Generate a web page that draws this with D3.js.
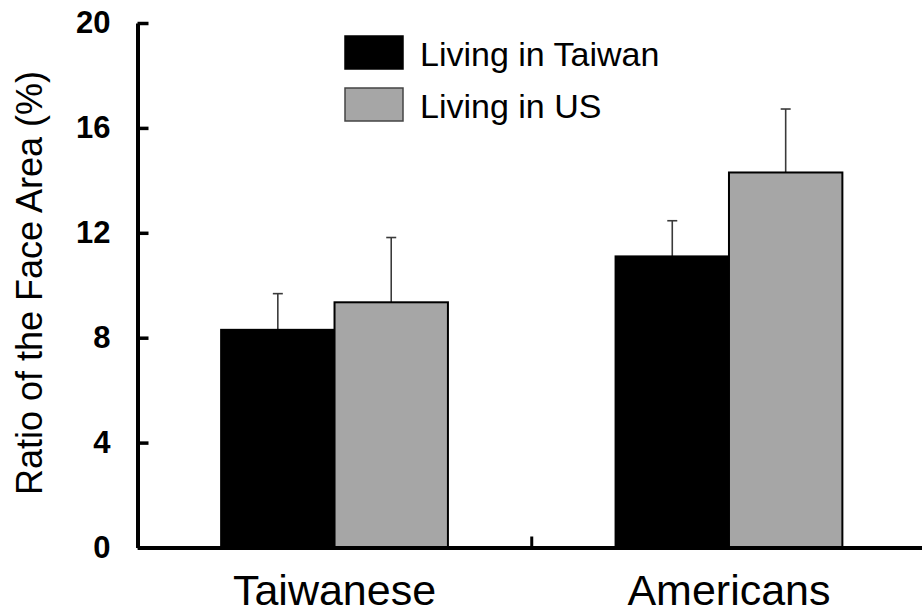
<!DOCTYPE html>
<html>
<head>
<meta charset="utf-8">
<script src="https://cdn.jsdelivr.net/npm/d3@7"></script>
<style>
  html, body { margin: 0; padding: 0; background: #fff; }
  svg { display: block; }
  text { font-family: "Liberation Sans", Arial, Helvetica, sans-serif; fill: #000; }
</style>
</head>
<body>
<svg id="chart" width="922" height="614"></svg>
<script>
// Face-area ratio by group and country of residence
const categories = ["Taiwanese", "Americans"];
const seriesNames = ["Living in Taiwan", "Living in US"];
const livingInTaiwan = [8.3, 11.1];
const livingInUS = [9.35, 14.3];
const errLivingInTaiwan = [1.38, 1.36];
const errLivingInUS = [2.47, 2.42];
const yTicks = [0, 4, 8, 12, 16, 20];
const yTitle = "Ratio of the Face Area (%)";

const seriesValues = [livingInTaiwan, livingInUS];
const seriesErrors = [errLivingInTaiwan, errLivingInUS];
const seriesFill = ["#000000", "#a6a6a6"];

const W = 922, H = 614;
const svg = d3.select("#chart");
svg.append("rect").attr("width", W).attr("height", H).attr("fill", "#fff");

const y = d3.scaleLinear().domain([0, 20]).range([547.5, 23]);
const x = d3.scaleBand().domain(categories).range([137.5, 926])
  .paddingInner(0.425).paddingOuter(0.212);
const xs = d3.scaleBand().domain(seriesNames).range([0, x.bandwidth()]);

// bars
const rows = [];
categories.forEach((c, ci) => {
  seriesNames.forEach((s, si) => {
    rows.push({ c, s, si, v: seriesValues[si][ci], e: seriesErrors[si][ci] });
  });
});

const g = svg.append("g");

// error bars (upper half only)
const errG = g.append("g");
rows.forEach(d => {
  const cx = x(d.c) + xs(d.s) + xs.bandwidth() / 2;
  errG.append("line")
    .attr("x1", cx).attr("x2", cx)
    .attr("y1", y(d.v)).attr("y2", y(d.v + d.e))
    .attr("stroke", "#3a3a3a").attr("stroke-width", 1.6);
  errG.append("line")
    .attr("x1", cx - 5).attr("x2", cx + 5)
    .attr("y1", y(d.v + d.e)).attr("y2", y(d.v + d.e))
    .attr("stroke", "#3a3a3a").attr("stroke-width", 1.6);
});

g.selectAll("rect.bar").data(rows).join("rect")
  .attr("class", "bar")
  .attr("x", d => x(d.c) + xs(d.s))
  .attr("width", xs.bandwidth())
  .attr("y", d => y(d.v))
  .attr("height", d => y(0) - y(d.v))
  .attr("fill", d => seriesFill[d.si])
  .attr("stroke", "#000")
  .attr("stroke-width", 2);

// y axis: ticks point inward, bold labels
const yAxis = d3.axisLeft(y).tickValues(yTicks).tickSizeInner(-11).tickSizeOuter(0).tickPadding(27);
const yG = svg.append("g").attr("transform", "translate(137.5,0)").call(yAxis);
yG.select(".domain").attr("stroke", "#000").attr("stroke-width", 4);
yG.selectAll(".tick line").attr("stroke", "#000").attr("stroke-width", 3.5);
yG.selectAll(".tick text")
  .style("font-family", '"Liberation Sans", Arial, sans-serif')
  .style("font-size", "31px").style("font-weight", "bold").attr("fill", "#000");

// x axis: category labels centred under each group
const xAxis = d3.axisBottom(x).tickSize(0).tickPadding(27);
const xG = svg.append("g").attr("transform", `translate(0,${y(0)})`).call(xAxis);
xG.select(".domain").attr("stroke", "#000").attr("stroke-width", 4);
xG.selectAll(".tick text")
  .style("font-family", '"Liberation Sans", Arial, sans-serif')
  .style("font-size", "43px").attr("fill", "#000");

// separator tick between the two groups
const midX = (x(categories[0]) + x.bandwidth() + x(categories[1])) / 2;
svg.append("line")
  .attr("x1", midX).attr("x2", midX)
  .attr("y1", y(0)).attr("y2", y(0) - 11)
  .attr("stroke", "#000").attr("stroke-width", 3);

// y axis title
svg.append("text")
  .attr("transform", "translate(42,283) rotate(-90)")
  .attr("text-anchor", "middle")
  .style("font-size", "36px")
  .text(yTitle);

// legend
const legend = svg.append("g").attr("transform", "translate(345,36)");
seriesNames.forEach((s, i) => {
  const row = legend.append("g").attr("transform", `translate(0,${i * 52})`);
  row.append("rect")
    .attr("x", 0).attr("y", 0).attr("width", 58).attr("height", 33)
    .attr("fill", seriesFill[i])
    .attr("stroke", i === 0 ? "#000" : "#444").attr("stroke-width", 1.5);
  row.append("text")
    .attr("x", 75).attr("y", 30)
    .style("font-size", "34px")
    .text(s);
});
</script>
</body>
</html>
